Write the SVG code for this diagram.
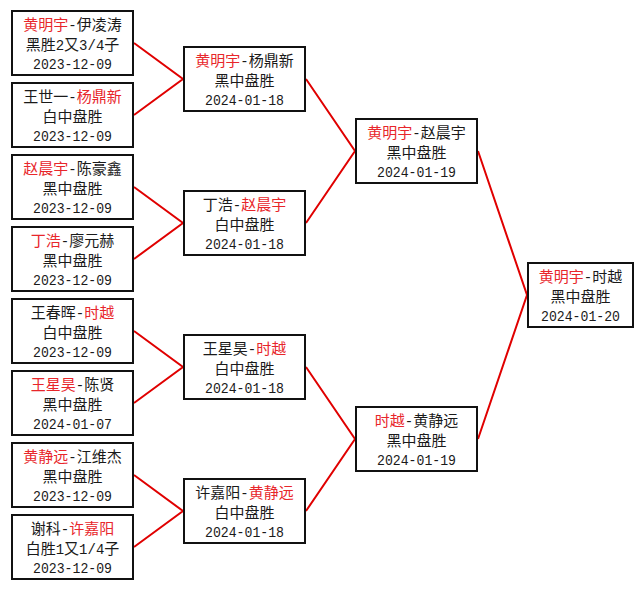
<svg xmlns="http://www.w3.org/2000/svg" width="644" height="589" viewBox="0 0 644 589">
<style>
.box{fill:#fff;stroke:#111;stroke-width:2}
.t{font-family:"Noto Sans CJK SC","Noto Sans CJK JP",sans-serif;font-size:15px;text-anchor:middle;fill:#1a1a1a}
.d{font-family:"Liberation Mono",monospace;font-size:14px}
.dt{font-family:"Liberation Mono",monospace;font-size:15px}
.r{fill:#e8262b}
.c{stroke:#e00000;stroke-width:2;fill:none}
</style>
<rect width="644" height="589" fill="#fff"/>
<g id="connectors">
<path class="c" d="M134 43L183 79L134 115"/>
<path class="c" d="M134 187L183 223L134 259"/>
<path class="c" d="M134 331L183 367L134 403"/>
<path class="c" d="M134 475L183 511L134 547"/>
<path class="c" d="M306 79L355 151L306 223"/>
<path class="c" d="M306 367L355 439L306 511"/>
<path class="c" d="M478 151L527 295L478 439"/>
</g>
<g id="r1m1"><rect class="box" x="12" y="11" width="121" height="64"/>
<text class="t" x="72.5" y="30"><tspan class="r">黄明宇</tspan><tspan class="d">-</tspan>伊凌涛</text>
<text class="t" x="72.5" y="50">黑胜<tspan class="d">2</tspan>又<tspan class="d">3/4</tspan>子</text>
<text class="t dt" x="72.5" y="69" textLength="79" lengthAdjust="spacingAndGlyphs">2023-12-09</text></g>
<g id="r1m2"><rect class="box" x="12" y="83" width="121" height="64"/>
<text class="t" x="72.5" y="102">王世一<tspan class="d">-</tspan><tspan class="r">杨鼎新</tspan></text>
<text class="t" x="72.5" y="122">白中盘胜</text>
<text class="t dt" x="72.5" y="141" textLength="79" lengthAdjust="spacingAndGlyphs">2023-12-09</text></g>
<g id="r1m3"><rect class="box" x="12" y="155" width="121" height="64"/>
<text class="t" x="72.5" y="174"><tspan class="r">赵晨宇</tspan><tspan class="d">-</tspan>陈豪鑫</text>
<text class="t" x="72.5" y="194">黑中盘胜</text>
<text class="t dt" x="72.5" y="213" textLength="79" lengthAdjust="spacingAndGlyphs">2023-12-09</text></g>
<g id="r1m4"><rect class="box" x="12" y="227" width="121" height="64"/>
<text class="t" x="72.5" y="246"><tspan class="r">丁浩</tspan><tspan class="d">-</tspan>廖元赫</text>
<text class="t" x="72.5" y="266">黑中盘胜</text>
<text class="t dt" x="72.5" y="285" textLength="79" lengthAdjust="spacingAndGlyphs">2023-12-09</text></g>
<g id="r1m5"><rect class="box" x="12" y="299" width="121" height="64"/>
<text class="t" x="72.5" y="318">王春晖<tspan class="d">-</tspan><tspan class="r">时越</tspan></text>
<text class="t" x="72.5" y="338">白中盘胜</text>
<text class="t dt" x="72.5" y="357" textLength="79" lengthAdjust="spacingAndGlyphs">2023-12-09</text></g>
<g id="r1m6"><rect class="box" x="12" y="371" width="121" height="64"/>
<text class="t" x="72.5" y="390"><tspan class="r">王星昊</tspan><tspan class="d">-</tspan>陈贤</text>
<text class="t" x="72.5" y="410">黑中盘胜</text>
<text class="t dt" x="72.5" y="429" textLength="79" lengthAdjust="spacingAndGlyphs">2024-01-07</text></g>
<g id="r1m7"><rect class="box" x="12" y="443" width="121" height="64"/>
<text class="t" x="72.5" y="462"><tspan class="r">黄静远</tspan><tspan class="d">-</tspan>江维杰</text>
<text class="t" x="72.5" y="482">黑中盘胜</text>
<text class="t dt" x="72.5" y="501" textLength="79" lengthAdjust="spacingAndGlyphs">2023-12-09</text></g>
<g id="r1m8"><rect class="box" x="12" y="515" width="121" height="64"/>
<text class="t" x="72.5" y="534">谢科<tspan class="d">-</tspan><tspan class="r">许嘉阳</tspan></text>
<text class="t" x="72.5" y="554">白胜<tspan class="d">1</tspan>又<tspan class="d">1/4</tspan>子</text>
<text class="t dt" x="72.5" y="573" textLength="79" lengthAdjust="spacingAndGlyphs">2023-12-09</text></g>
<g id="r2m1"><rect class="box" x="184" y="47" width="121" height="64"/>
<text class="t" x="244.5" y="66"><tspan class="r">黄明宇</tspan><tspan class="d">-</tspan>杨鼎新</text>
<text class="t" x="244.5" y="86">黑中盘胜</text>
<text class="t dt" x="244.5" y="105" textLength="79" lengthAdjust="spacingAndGlyphs">2024-01-18</text></g>
<g id="r2m2"><rect class="box" x="184" y="191" width="121" height="64"/>
<text class="t" x="244.5" y="210">丁浩<tspan class="d">-</tspan><tspan class="r">赵晨宇</tspan></text>
<text class="t" x="244.5" y="230">白中盘胜</text>
<text class="t dt" x="244.5" y="249" textLength="79" lengthAdjust="spacingAndGlyphs">2024-01-18</text></g>
<g id="r2m3"><rect class="box" x="184" y="335" width="121" height="64"/>
<text class="t" x="244.5" y="354">王星昊<tspan class="d">-</tspan><tspan class="r">时越</tspan></text>
<text class="t" x="244.5" y="374">白中盘胜</text>
<text class="t dt" x="244.5" y="393" textLength="79" lengthAdjust="spacingAndGlyphs">2024-01-18</text></g>
<g id="r2m4"><rect class="box" x="184" y="479" width="121" height="64"/>
<text class="t" x="244.5" y="498">许嘉阳<tspan class="d">-</tspan><tspan class="r">黄静远</tspan></text>
<text class="t" x="244.5" y="518">白中盘胜</text>
<text class="t dt" x="244.5" y="537" textLength="79" lengthAdjust="spacingAndGlyphs">2024-01-18</text></g>
<g id="r3m1"><rect class="box" x="356" y="119" width="121" height="64"/>
<text class="t" x="416.5" y="138"><tspan class="r">黄明宇</tspan><tspan class="d">-</tspan>赵晨宇</text>
<text class="t" x="416.5" y="158">黑中盘胜</text>
<text class="t dt" x="416.5" y="177" textLength="79" lengthAdjust="spacingAndGlyphs">2024-01-19</text></g>
<g id="r3m2"><rect class="box" x="356" y="407" width="121" height="64"/>
<text class="t" x="416.5" y="426"><tspan class="r">时越</tspan><tspan class="d">-</tspan>黄静远</text>
<text class="t" x="416.5" y="446">黑中盘胜</text>
<text class="t dt" x="416.5" y="465" textLength="79" lengthAdjust="spacingAndGlyphs">2024-01-19</text></g>
<g id="final"><rect class="box" x="528" y="263" width="105" height="64"/>
<text class="t" x="580.5" y="282"><tspan class="r">黄明宇</tspan><tspan class="d">-</tspan>时越</text>
<text class="t" x="580.5" y="302">黑中盘胜</text>
<text class="t dt" x="580.5" y="321" textLength="79" lengthAdjust="spacingAndGlyphs">2024-01-20</text></g>
</svg>
